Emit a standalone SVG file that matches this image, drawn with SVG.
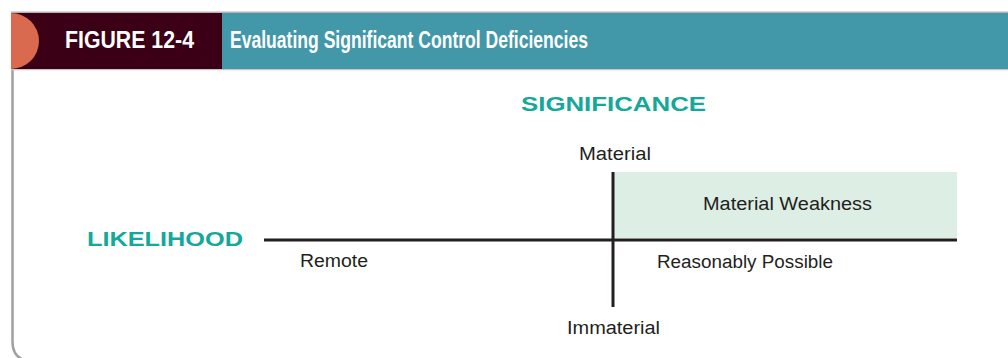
<svg xmlns="http://www.w3.org/2000/svg" width="1008" height="358" viewBox="0 0 1008 358">
<style>
.hdr{font-family:"Liberation Sans",Arial,sans-serif;font-weight:bold;font-size:23px;fill:#ffffff}
.axis{font-family:"Liberation Sans",Arial,sans-serif;font-weight:bold;font-size:20px;fill:#14a89b}
.lbl{font-family:"Liberation Sans",Arial,sans-serif;font-size:18px;fill:#231f20}
.ln{stroke:#231f20;stroke-width:3;fill:none}
</style>
<rect x="0" y="0" width="1008" height="358" fill="#ffffff"/>
<g id="frame">
<path d="M12.5,69 L12.5,342 Q12.5,356 24,360" fill="none" stroke="#a0a0a0" stroke-width="2.5"/>
<line x1="11" y1="12.2" x2="1008" y2="12.2" stroke="#b4b4b4" stroke-width="1.5"/>
<line x1="11" y1="69.5" x2="1008" y2="69.5" stroke="#c8c8c8" stroke-width="1.5"/>
</g>
<g id="header">
<rect x="11" y="13" width="211" height="56" fill="#3c0016"/>
<rect x="222" y="13" width="786" height="56" fill="#4298a9"/>
<path d="M11,13 A28,28 0 0 1 11,69 Z" fill="#d9694f"/>
<text class="hdr" x="65" y="47.5" textLength="129" lengthAdjust="spacingAndGlyphs">FIGURE 12-4</text>
<text class="hdr" x="230" y="47.5" textLength="358" lengthAdjust="spacingAndGlyphs">Evaluating Significant Control Deficiencies</text>
</g>
<g id="weakness-region">
<rect x="614" y="172" width="343" height="66" fill="#ddeee5"/>
</g>
<g id="connectors">
<line class="ln" x1="613" y1="172" x2="613" y2="307"/>
<line class="ln" x1="264" y1="240" x2="957" y2="240"/>
</g>
<g id="significance">
<text class="axis" x="521" y="111" textLength="185" lengthAdjust="spacingAndGlyphs">SIGNIFICANCE</text>
</g>
<g id="likelihood">
<text class="axis" x="87" y="246" textLength="156" lengthAdjust="spacingAndGlyphs">LIKELIHOOD</text>
</g>
<g id="material">
<text class="lbl" x="579" y="160" textLength="72" lengthAdjust="spacingAndGlyphs">Material</text>
</g>
<g id="immaterial">
<text class="lbl" x="567" y="334" textLength="93" lengthAdjust="spacingAndGlyphs">Immaterial</text>
</g>
<g id="remote">
<text class="lbl" x="300" y="267" textLength="68" lengthAdjust="spacingAndGlyphs">Remote</text>
</g>
<g id="material-weakness">
<text class="lbl" x="703" y="210" textLength="169" lengthAdjust="spacingAndGlyphs">Material Weakness</text>
</g>
<g id="reasonably-possible">
<text class="lbl" x="657" y="268" textLength="176" lengthAdjust="spacingAndGlyphs">Reasonably Possible</text>
</g>
</svg>
